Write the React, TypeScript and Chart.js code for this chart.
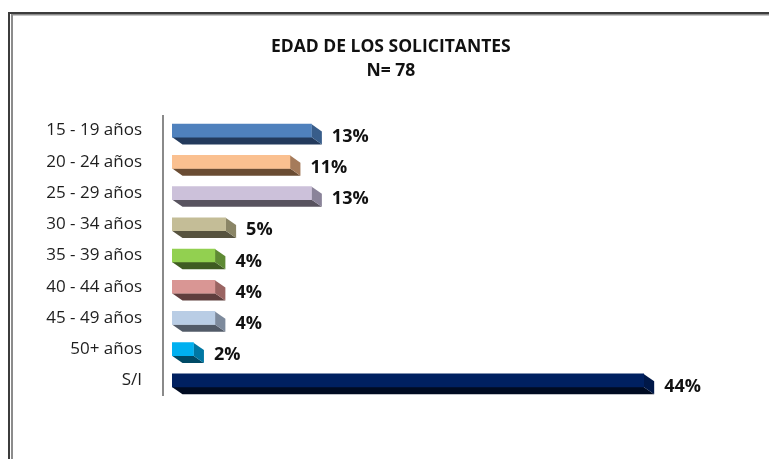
import { useEffect, useRef } from 'react';
import { Chart, registerables } from 'chart.js';

Chart.register(...registerables);

const categories = [
  '15 - 19 años',
  '20 - 24 años',
  '25 - 29 años',
  '30 - 34 años',
  '35 - 39 años',
  '40 - 44 años',
  '45 - 49 años',
  '50+ años',
  'S/I',
];
const values = [13, 11, 13, 5, 4, 4, 4, 2, 44];
const valueLabels = ['13%', '11%', '13%', '5%', '4%', '4%', '4%', '2%', '44%'];
const titleLines = ['EDAD DE LOS SOLICITANTES', 'N= 78'];

const faceColors = ['#4F81BD', '#FAC090', '#CCC1DA', '#C4BD97', '#92D050', '#D99694', '#B9CDE5', '#00B0F0', '#002060'];
const bottomColors = ['#233A5C', '#6A4C33', '#58535F', '#57533F', '#3F5B22', '#5F3E3D', '#525B68', '#004A66', '#000B22'];
const sideColors = ['#385D8A', '#A57B5B', '#8A8399', '#8A8566', '#5E8A34', '#9A6462', '#7D8A9C', '#0077A3', '#001848'];

const DX = 10.5;
const DY = 7.3;

const bar3d = {
  id: 'bar3d',
  beforeDraw(chart: any) {
    const { ctx, chartArea, width, height } = chart;
    ctx.save();
    ctx.fillStyle = '#ffffff';
    ctx.fillRect(0, 0, width, height);
    // frame
    ctx.fillStyle = '#3c3c3c';
    ctx.fillRect(8, 12, 2, height - 12);
    ctx.fillRect(8, 12, width - 8, 2);
    ctx.fillStyle = '#8c8c8c';
    ctx.fillRect(11, 14, 2, height - 14);
    ctx.fillRect(11, 14, width - 11, 1.5);
    // axis line
    ctx.fillStyle = '#8a8a8a';
    ctx.fillRect(chartArea.left - 10, chartArea.top, 2, chartArea.bottom - chartArea.top);
    ctx.restore();
  },
  beforeDatasetsDraw(chart: any) {
    const { ctx } = chart;
    const meta = chart.getDatasetMeta(0);
    ctx.save();
    meta.data.forEach((bar: any, i: number) => {
      const x0 = bar.base;
      const x1 = bar.x;
      const yt = bar.y - bar.height / 2;
      const yb = bar.y + bar.height / 2;
      ctx.fillStyle = bottomColors[i];
      ctx.beginPath();
      ctx.moveTo(x0, yb);
      ctx.lineTo(x1, yb);
      ctx.lineTo(x1 + DX, yb + DY);
      ctx.lineTo(x0 + DX, yb + DY);
      ctx.closePath();
      ctx.fill();
      ctx.fillStyle = sideColors[i];
      ctx.beginPath();
      ctx.moveTo(x1, yt);
      ctx.lineTo(x1 + DX, yt + DY);
      ctx.lineTo(x1 + DX, yb + DY);
      ctx.lineTo(x1, yb);
      ctx.closePath();
      ctx.fill();
    });
    ctx.restore();
  },
  afterDatasetsDraw(chart: any) {
    const { ctx } = chart;
    const meta = chart.getDatasetMeta(0);
    ctx.save();
    ctx.font = 'bold 18px "Open Sans"';
    ctx.fillStyle = '#111111';
    ctx.textAlign = 'left';
    ctx.textBaseline = 'middle';
    meta.data.forEach((bar: any, i: number) => {
      ctx.fillText(valueLabels[i], bar.x + DX + 10, bar.y + 6);
    });
    ctx.restore();
  },
};

export default function App() {
  const ref = useRef<HTMLCanvasElement>(null);

  useEffect(() => {
    let chart: Chart | null = null;
    let cancelled = false;
    const make = () => {
      if (cancelled || !ref.current) return;
      chart = new Chart(ref.current, {
        type: 'bar',
        data: {
          labels: categories,
          datasets: [
            {
              data: values,
              backgroundColor: faceColors,
              borderWidth: 0,
              barThickness: 13,
            },
          ],
        },
        options: {
          indexAxis: 'y',
          responsive: false,
          animation: false,
          devicePixelRatio: 1,
          layout: { padding: { left: 20, right: 7.4, top: 0, bottom: 63 } },
          plugins: {
            legend: { display: false },
            tooltip: { enabled: false },
            title: {
              display: true,
              text: titleLines,
              color: '#111111',
              font: { family: '"Open Sans"', size: 17.5, weight: 'bold', lineHeight: 24 / 17.5 },
              padding: { top: 35, bottom: 32 },
            },
          },
          scales: {
            x: { display: false, min: 0, max: 55 },
            y: {
              grid: { display: false, drawTicks: false },
              border: { display: false },
              ticks: {
                autoSkip: false,
                padding: 30,
                color: '#1e1e1e',
                font: { family: '"Open Sans"', size: 17 },
              },
              afterFit: (scale: any) => {
                scale.width = 152;
              },
            },
          },
        },
        plugins: [bar3d],
      } as any);
    };
    Promise.all([
      document.fonts.load('16px "Open Sans"'),
      document.fonts.load('bold 16px "Open Sans"'),
    ])
      .catch(() => null)
      .then(make);
    return () => {
      cancelled = true;
      if (chart) chart.destroy();
    };
  }, []);

  return (
    <div style={{ position: 'fixed', left: 0, top: 0, width: 769, height: 459, background: '#fff', overflow: 'hidden' }}>
      <canvas ref={ref} width={769} height={459} style={{ display: 'block' }} />
    </div>
  );
}
